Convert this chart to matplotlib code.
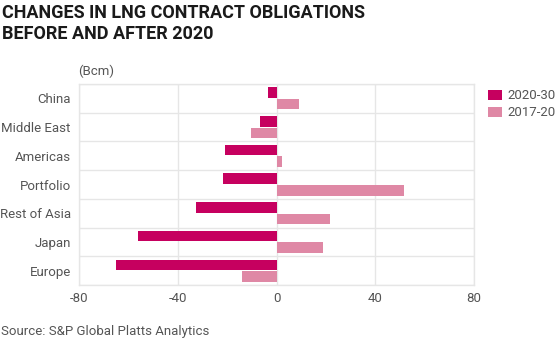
import numpy as np
import matplotlib.pyplot as plt

regions = ["China", "Middle East", "Americas", "Portfolio", "Rest of Asia", "Japan", "Europe"]
obl_2020_30 = [-3.5, -6.7, -21, -21.6, -32.8, -56.1, -65.1]
obl_2017_20 = [9, -10.5, 2.4, 51.8, 21.5, 18.9, -14]
xticks = [-80, -40, 0, 40, 80]

dark = "#C6005F"
light = "#DF88A5"
grid = "#E6E6E6"
txt = "#555555"

plt.rcParams['font.family'] = ['Roboto', 'DejaVu Sans']

fig = plt.figure(figsize=(5.6, 3.45), dpi=100)
ax = fig.add_axes([79 / 560, 1 - 285 / 345, 395 / 560, 201 / 345])

y = np.arange(len(regions))
h = 0.37
ax.barh(y - 0.2, obl_2020_30, height=h, color=dark, label="2020-30", zorder=3)
ax.barh(y + 0.2, obl_2017_20, height=h, color=light, label="2017-20", zorder=3)

ax.set_xlim(-80, 80)
ax.set_ylim(len(regions) - 0.5, -0.5)
ax.set_xticks(xticks)
ax.set_xticklabels([str(v) for v in xticks])
ax.set_yticks(y)
ax.set_yticklabels(regions)
ax.set_yticks(np.arange(len(regions) + 1) - 0.5, minor=True)
ax.tick_params(axis='both', which='both', length=0, labelsize=9.5, colors=txt)
ax.tick_params(axis='y', pad=6)
ax.tick_params(axis='x', pad=5)
ax.grid(axis='x', color=grid, lw=1, zorder=0)
ax.grid(axis='y', which='minor', color=grid, lw=1, zorder=0)
ax.grid(axis='y', which='major', visible=False)
for s in ax.spines.values():
    s.set_color(grid)
    s.set_linewidth(1)

ax.legend(loc='upper left', bbox_to_anchor=(1.022, 1.0), frameon=False, fontsize=9.5,
          handlelength=1.1, handleheight=0.8, handletextpad=0.4, labelspacing=0.3,
          borderaxespad=0, labelcolor=txt)

fig.text(0.004, 0.988, "CHANGES IN LNG CONTRACT OBLIGATIONS\nBEFORE AND AFTER 2020",
         fontsize=13, fontweight='bold', va='top', ha='left', color="#1a1a1a", linespacing=1.2)
fig.text(78 / 560, 1 - 71 / 345, "(Bcm)", fontsize=9.5, color=txt, va='center', ha='left')
fig.text(0.002, 1 - 331 / 345, "Source: S&P Global Platts Analytics", fontsize=9.5, color=txt,
         va='center', ha='left')

fig.savefig("out.png", dpi=100)
